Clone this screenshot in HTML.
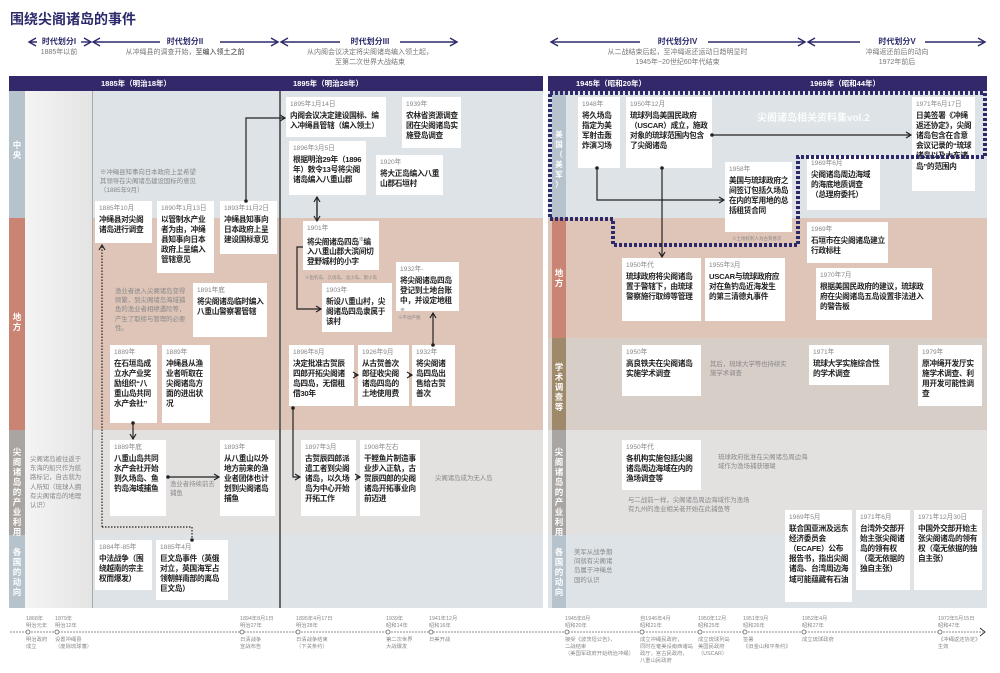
<!DOCTYPE html>
<html><head><meta charset="utf-8">
<style>
*{margin:0;padding:0;box-sizing:border-box}
body{width:1000px;height:673px;background:#fff;position:relative;overflow:hidden;font-family:"Liberation Sans","Noto Sans CJK SC",sans-serif;color:#222}
.a{position:absolute}
.b{position:absolute;background:#fff;padding:3px 3px 3px 4px;font-size:7.7px;font-weight:bold;line-height:10.2px;color:#222;overflow:hidden;letter-spacing:-0.3px}
.b i{display:block;font-style:normal;font-weight:normal;color:#888;font-size:6.6px;line-height:9.5px;margin-bottom:1px;letter-spacing:0}
.n{position:absolute;font-size:6.4px;color:#888;line-height:9.2px}
.lab{position:absolute;color:#fff;font-size:8.5px;font-weight:bold;width:16px;text-align:center;line-height:10px}
.ph{position:absolute;text-align:center;font-size:7px;color:#777;line-height:10px;z-index:2}
.ph b{color:#2c2a6a;font-size:8px;background:#fff;padding:0 5px}
.t{position:absolute;font-size:5.3px;color:#888;line-height:7px;white-space:nowrap}
.bar{position:absolute;top:76px;height:15px;background:#32286a;color:#fff;font-size:7.5px;font-weight:bold;line-height:15px}
</style></head><body>
<div class="a" style="left:10px;top:9px;font-size:14px;font-weight:bold;color:#2c2a6a">围绕尖阁诸岛的事件</div>

<svg class="a" style="left:0;top:0" width="1000" height="60">
<defs><marker id="hr" markerWidth="10" markerHeight="10" refX="8" refY="5" orient="auto" markerUnits="userSpaceOnUse"><path d="M1,1 L8,5 L1,9" fill="none" stroke="#2c2a6a" stroke-width="1.4"/></marker></defs>
<g stroke="#2c2a6a" stroke-width="1.4" fill="none">
<line x1="60" y1="42" x2="29" y2="42" marker-end="url(#hr)"/><line x1="80" y1="42" x2="91" y2="42" marker-end="url(#hr)"/>
<line x1="160" y1="42" x2="93" y2="42" marker-end="url(#hr)"/><line x1="220" y1="42" x2="278" y2="42" marker-end="url(#hr)"/>
<line x1="340" y1="42" x2="281" y2="42" marker-end="url(#hr)"/><line x1="400" y1="42" x2="457" y2="42" marker-end="url(#hr)"/>
<line x1="640" y1="42" x2="551" y2="42" marker-end="url(#hr)"/><line x1="708" y1="42" x2="805" y2="42" marker-end="url(#hr)"/>
<line x1="860" y1="42" x2="808" y2="42" marker-end="url(#hr)"/><line x1="925" y1="42" x2="985" y2="42" marker-end="url(#hr)"/>
</g></svg>

<div class="ph" style="left:28px;top:37px;width:62px"><b>时代划分I</b><br>1885年以前</div>
<div class="ph" style="left:92px;top:37px;width:186px"><b>时代划分II</b><br>从冲绳县的调查开始，<span style="color:#333">至编入领土之前</span></div>
<div class="ph" style="left:280px;top:37px;width:180px"><b>时代划分III</b><br>从内阁会议决定将尖阁诸岛编入领土起，<br>至第二次世界大战结束</div>
<div class="ph" style="left:550px;top:37px;width:255px"><b>时代划分IV</b><br>从二战结束后起，至冲绳返还运动日趋明显时<br>1945年~20世纪60年代结束</div>
<div class="ph" style="left:808px;top:37px;width:178px"><b>时代划分V</b><br>冲绳返还前后的动向<br>1972年前后</div>

<!-- left panel backgrounds -->
<div class="a" style="left:9px;top:91px;width:534px;height:127px;background:#dde3e6"></div>
<div class="a" style="left:9px;top:218px;width:534px;height:212px;background:#dfc5b8"></div>
<div class="a" style="left:9px;top:430px;width:534px;height:105px;background:#e3e1e0"></div>
<div class="a" style="left:9px;top:535px;width:534px;height:73px;background:#dde3e6"></div>
<div class="a" style="left:25px;top:91px;width:67px;height:517px;background:linear-gradient(90deg,#f4f4f4,#e4e4e4)"></div>
<div class="a" style="left:9px;top:91px;width:16px;height:127px;background:#b7c3cc"></div>
<div class="a" style="left:9px;top:218px;width:16px;height:212px;background:#c98473"></div>
<div class="a" style="left:9px;top:430px;width:16px;height:105px;background:#a9a5a2"></div>
<div class="a" style="left:9px;top:535px;width:16px;height:73px;background:#b7c3cc"></div>
<div class="a" style="left:92px;top:91px;width:1px;height:517px;background:#aaa"></div>
<div class="a" style="left:279px;top:91px;width:2px;height:517px;background:#666"></div>
<div class="bar" style="left:9px;width:534px"><span style="position:absolute;left:92px">1885年（明治18年）</span><span style="position:absolute;left:284px">1895年（明治28年）</span></div>

<!-- right panel backgrounds -->
<div class="a" style="left:548px;top:91px;width:439px;height:127px;background:#dde3e6"></div>
<div class="a" style="left:548px;top:218px;width:439px;height:120px;background:#dfc5b8"></div>
<div class="a" style="left:548px;top:338px;width:439px;height:92px;background:#d8cec8"></div>
<div class="a" style="left:548px;top:430px;width:439px;height:105px;background:#e3e1e0"></div>
<div class="a" style="left:548px;top:535px;width:439px;height:73px;background:#dde3e6"></div>
<div class="a" style="left:552px;top:91px;width:14px;height:127px;background:#b7c3cc"></div>
<div class="a" style="left:552px;top:218px;width:14px;height:120px;background:#c98473"></div>
<div class="a" style="left:552px;top:338px;width:14px;height:92px;background:#9e8a6a"></div>
<div class="a" style="left:552px;top:430px;width:14px;height:105px;background:#a9a5a2"></div>
<div class="a" style="left:552px;top:535px;width:14px;height:73px;background:#b7c3cc"></div>
<div class="bar" style="left:548px;width:439px"><span style="position:absolute;left:28px">1945年（昭和20年）</span><span style="position:absolute;left:262px">1969年（昭和44年）</span></div>

<!-- labels -->
<div class="lab" style="left:9px;top:140px">中<br>央</div>
<div class="lab" style="left:9px;top:312px">地<br>方</div>
<div class="lab" style="left:9px;top:447px">尖<br>阁<br>诸<br>岛<br>的<br>产<br>业<br>利<br>用</div>
<div class="lab" style="left:9px;top:547px">各<br>国<br>的<br>动<br>向</div>
<div class="lab" style="left:551px;top:130px;font-size:7.5px">美<br>国<br>（<br>美<br>军<br>）</div>
<div class="lab" style="left:551px;top:268px">地<br>方</div>
<div class="lab" style="left:551px;top:362px">学<br>术<br>调<br>查<br>等</div>
<div class="lab" style="left:551px;top:447px">尖<br>阁<br>诸<br>岛<br>的<br>产<br>业<br>利<br>用</div>
<div class="lab" style="left:551px;top:547px">各<br>国<br>的<br>动<br>向</div>

<!-- left notes -->
<div class="n" style="left:100px;top:168px;width:100px">※冲绳县知事向日本政府上呈希望其领导在尖阁诸岛建设国标的意见（1885年9月）</div>
<div class="n" style="left:115px;top:287px;width:75px">渔业者进入尖阁诸岛变得频繁，到尖阁诸岛海域捕鱼的渔业者相继遇险等，产生了取缔与管理的必要性。</div>
<div class="n" style="left:30px;top:455px;width:57px">尖阁诸岛被往返于东海的船只作为航路标记，自古就为人所知（琉球人拥有尖阁诸岛的地理认识）</div>
<div class="n" style="left:170px;top:480px;width:48px">渔业者持续前去捕鱼</div>
<div class="n" style="left:435px;top:474px">尖阁诸岛成为无人岛</div>
<div class="n" style="left:305px;top:273px;font-size:4.5px">※鱼钓岛、久场岛、北小岛、南小岛</div>
<div class="n" style="left:398px;top:313px;font-size:4.5px">※不动产税</div>

<!-- left boxes -->
<div class="b" style="left:95px;top:201px;width:57px;height:42px"><i>1885年10月</i>冲绳县对尖阁诸岛进行调查</div>
<div class="b" style="left:157px;top:201px;width:57px;height:72px"><i>1890年1月13日</i>以管制水产业者为由，冲绳县知事向日本政府上呈编入管辖意见</div>
<div class="b" style="left:220px;top:201px;width:57px;height:53px"><i>1893年11月2日</i>冲绳县知事向日本政府上呈建设国标意见</div>
<div class="b" style="left:193px;top:283px;width:74px;height:54px"><i>1891年底</i>将尖阁诸岛临时编入八重山警察署管辖</div>
<div class="b" style="left:110px;top:345px;width:47px;height:78px"><i>1889年</i>在石垣岛成立水产业奖励组织“八重山岛共同水产会社”</div>
<div class="b" style="left:162px;top:345px;width:48px;height:78px"><i>1889年</i>冲绳县从渔业者听取在尖阁诸岛方面的进出状况</div>
<div class="b" style="left:110px;top:440px;width:56px;height:76px"><i>1889年底</i>八重山岛共同水产会社开始到久场岛、鱼钓岛海域捕鱼</div>
<div class="b" style="left:220px;top:440px;width:55px;height:76px"><i>1893年</i>从八重山以外地方前来的渔业者团体也计划到尖阁诸岛捕鱼</div>
<div class="b" style="left:95px;top:540px;width:57px;height:50px"><i>1884年-85年</i>中法战争（围绕越南的宗主权而爆发）</div>
<div class="b" style="left:156px;top:540px;width:72px;height:60px"><i>1885年4月</i>巨文岛事件（英俄对立，英国海军占领朝鲜南部的离岛巨文岛）</div>

<div class="b" style="left:286px;top:97px;width:100px;height:40px"><i>1895年1月14日</i>内阁会议决定建设国标、编入冲绳县管辖（编入领土）</div>
<div class="b" style="left:402px;top:97px;width:59px;height:51px"><i>1939年</i>农林省资源调查团在尖阁诸岛实施登岛调查</div>
<div class="b" style="left:289px;top:141px;width:77px;height:54px"><i>1896年3月5日</i>根据明治29年（1896年）敕令13号将尖阁诸岛编入八重山郡</div>
<div class="b" style="left:376px;top:155px;width:67px;height:40px"><i>1920年</i>将大正岛编入八重山郡石垣村</div>
<div class="b" style="left:303px;top:221px;width:76px;height:49px"><i>1901年</i>将尖阁诸岛四岛<sup style="font-size:5px">※</sup>编入八重山郡大滨间切登野城村的小字</div>
<div class="b" style="left:322px;top:283px;width:70px;height:49px"><i>1903年</i>新设八重山村，尖阁诸岛四岛隶属于该村</div>
<div class="b" style="left:396px;top:262px;width:63px;height:49px"><i>1932年-</i>将尖阁诸岛四岛登记到土地台账中，并设定地租<sup style="font-size:5px">※</sup></div>
<div class="b" style="left:289px;top:345px;width:65px;height:61px"><i>1896年8月</i>决定批准古贺辰四郎开拓尖阁诸岛四岛，无偿租借30年</div>
<div class="b" style="left:358px;top:345px;width:51px;height:61px"><i>1926年9月</i>从古贺善次郎征收尖阁诸岛四岛的土地使用费</div>
<div class="b" style="left:412px;top:345px;width:43px;height:61px"><i>1932年</i>将尖阁诸岛四岛出售给古贺善次</div>
<div class="b" style="left:301px;top:440px;width:55px;height:76px"><i>1897年3月</i>古贺辰四郎派遣工者到尖阁诸岛，以久场岛为中心开始开拓工作</div>
<div class="b" style="left:360px;top:440px;width:60px;height:76px"><i>1908年左右</i>干鲣鱼片制造事业步入正轨，古贺辰四郎的尖阁诸岛开拓事业向前迈进</div>

<!-- right -->
<div class="a" style="left:757px;top:109px;color:#fff;font-size:10px;font-weight:bold;opacity:.9">尖阁诸岛相关资料集vol.2</div>
<div class="b" style="left:578px;top:97px;width:42px;height:71px"><i>1948年</i>将久场岛指定为美军射击轰炸演习场</div>
<div class="b" style="left:626px;top:97px;width:86px;height:71px"><i>1950年12月</i>琉球列岛美国民政府（USCAR）成立，施政对象的琉球范围内包含了尖阁诸岛</div>
<div class="b" style="left:912px;top:97px;width:63px;height:94px"><i>1971年6月17日</i>日美签署《冲绳返还协定》，尖阁诸岛包含在合意会议记录的“琉球诸岛以及大东诸岛”的范围内</div>
<div class="b" style="left:725px;top:162px;width:67px;height:70px"><i>1958年</i>美国与琉球政府之间签订包括久场岛在内的军用地的总括租赁合同</div>
<div class="n" style="left:732px;top:234px;font-size:4.5px">※土地权利人为古贺善次</div>
<div class="b" style="left:807px;top:156px;width:73px;height:54px"><i>1969年6月</i>尖阁诸岛周边海域的海底地质调查（总理府委托）</div>
<div class="b" style="left:807px;top:222px;width:81px;height:41px"><i>1969年</i>石垣市在尖阁诸岛建立行政标柱</div>
<div class="b" style="left:622px;top:258px;width:79px;height:63px"><i>1950年代</i>琉球政府将尖阁诸岛置于警辖下，由琉球警察施行取缔等管理</div>
<div class="b" style="left:705px;top:258px;width:80px;height:63px"><i>1955年3月</i>USCAR与琉球政府应对在鱼钓岛近海发生的第三清德丸事件</div>
<div class="b" style="left:816px;top:268px;width:116px;height:52px"><i>1970年7月</i>根据美国民政府的建议，琉球政府在尖阁诸岛五岛设置非法进入的警告板</div>
<div class="b" style="left:622px;top:345px;width:79px;height:51px"><i>1950年</i>高良铁夫在尖阁诸岛实施学术调查</div>
<div class="n" style="left:710px;top:360px;width:80px">其后，琉球大学等也持续实施学术调查</div>
<div class="b" style="left:809px;top:345px;width:80px;height:40px"><i>1971年</i>琉球大学实施综合性的学术调查</div>
<div class="b" style="left:918px;top:345px;width:64px;height:61px"><i>1979年</i>原冲绳开发厅实施学术调查、利用开发可能性调查</div>
<div class="b" style="left:622px;top:440px;width:79px;height:50px"><i>1950年代</i>各机构实施包括尖阁诸岛周边海域在内的渔场调查等</div>
<div class="n" style="left:718px;top:453px;width:90px">琉球政府批准在尖阁诸岛周边海域作为渔场捕获珊瑚</div>
<div class="n" style="left:628px;top:496px;width:125px">与二战前一样，尖阁诸岛周边海域作为渔场有九州的渔业相关者开始在此捕鱼等</div>
<div class="b" style="left:785px;top:510px;width:67px;height:92px"><i>1969年5月</i>联合国亚洲及远东经济委员会（ECAFE）公布报告书，指出尖阁诸岛、台湾周边海域可能蕴藏有石油</div>
<div class="b" style="left:856px;top:510px;width:54px;height:80px"><i>1971年6月</i>台湾外交部开始主张尖阁诸岛的领有权（毫无依据的独自主张）</div>
<div class="b" style="left:914px;top:510px;width:68px;height:80px"><i>1971年12月30日</i>中国外交部开始主张尖阁诸岛的领有权（毫无依据的独自主张）</div>
<div class="n" style="left:574px;top:548px;width:44px">美军从战争期间就有尖阁诸岛属于冲绳总国的认识</div>

<!-- timeline labels -->
<div class="t" style="left:26px;top:616px">1868年<br>明治元年</div><div class="t" style="left:26px;top:637px">明治政府<br>成立</div>
<div class="t" style="left:55px;top:616px">1879年<br>明治12年</div><div class="t" style="left:55px;top:637px">设置冲绳县<br>（废除琉球藩）</div>
<div class="t" style="left:240px;top:616px">1894年8月1日<br>明治27年</div><div class="t" style="left:240px;top:637px">日清战争<br>宣战布告</div>
<div class="t" style="left:296px;top:616px">1895年4月17日<br>明治28年</div><div class="t" style="left:296px;top:637px">日清战争结束<br>（下关条约）</div>
<div class="t" style="left:386px;top:616px">1939年<br>昭和14年</div><div class="t" style="left:386px;top:637px">第二次世界<br>大战爆发</div>
<div class="t" style="left:429px;top:616px">1941年12月<br>昭和16年</div><div class="t" style="left:429px;top:637px">日美开战</div>
<div class="t" style="left:565px;top:616px">1945年8月<br>昭和20年</div><div class="t" style="left:565px;top:637px">接受《波茨坦公告》，<br>二战结束<br>（美国军政府开始统治冲绳）</div>
<div class="t" style="left:640px;top:616px">自1946年4月<br>昭和21年</div><div class="t" style="left:640px;top:637px">成立冲绳民政府，<br>同时在奄美设南西诸岛<br>政厅，宫古民政府，<br>八重山民政府</div>
<div class="t" style="left:698px;top:616px">1950年12月<br>昭和25年</div><div class="t" style="left:698px;top:637px">成立琉球列岛<br>美国民政府<br>（USCAR）</div>
<div class="t" style="left:743px;top:616px">1951年9月<br>昭和26年</div><div class="t" style="left:743px;top:637px">签署<br>《旧金山和平条约》</div>
<div class="t" style="left:802px;top:616px">1952年4月<br>昭和27年</div><div class="t" style="left:802px;top:637px">成立琉球政府</div>
<div class="t" style="left:938px;top:616px">1972年5月15日<br>昭和47年</div><div class="t" style="left:938px;top:637px">《冲绳返还协定》<br>生效</div>

<svg class="a" style="left:0;top:0" width="1000" height="673" viewBox="0 0 1000 673">
<defs><marker id="ar" markerWidth="8" markerHeight="8" refX="6" refY="4" orient="auto" markerUnits="userSpaceOnUse"><path d="M1,1 L6,4 L1,7" fill="none" stroke="#222" stroke-width="1.2"/></marker></defs>
<path d="M550,93 H985 V157 H798 V245 H613 V219 H550 Z" fill="none" stroke="#2c2a6a" stroke-width="4" stroke-dasharray="3 2"/>
<g stroke="#222" stroke-width="1.2" fill="none">
<path d="M246,201 V118 H285" marker-end="url(#ar)"/>
<path d="M317,197 V221" marker-end="url(#ar)"/><path d="M317,219 V197" marker-end="url(#ar)"/>
<path d="M303,247 H297 V309 H321" marker-end="url(#ar)"/>
<path d="M433,345 V313" marker-end="url(#ar)"/>
<path d="M293,408 V477 H300" marker-end="url(#ar)"/>
<path d="M133,423 V439" marker-end="url(#ar)"/>
<path d="M168,477 H219" marker-end="url(#ar)"/>
<path d="M354,375 H358" marker-end="url(#ar)"/><path d="M409,375 H412" marker-end="url(#ar)"/><path d="M356,477 H360" marker-end="url(#ar)"/>
<path d="M712,135 H911" marker-end="url(#ar)"/>
<path d="M597,168 V200 H724" marker-end="url(#ar)"/>
<path d="M662,168 V257" marker-end="url(#ar)"/>
<path d="M102,527 V245" stroke-dasharray="1.5 1.5" marker-end="url(#ar)"/>
<path d="M102,527 H192 V540" stroke-dasharray="1.5 1.5"/>
</g>
<g fill="#222"><circle cx="246" cy="201" r="1.8"/><circle cx="293" cy="408" r="1.8"/><circle cx="433" cy="345" r="1.8"/><circle cx="133" cy="423" r="1.8"/><circle cx="168" cy="477" r="1.8"/><circle cx="712" cy="135" r="1.8"/><circle cx="597" cy="168" r="1.8"/><circle cx="662" cy="168" r="1.8"/><circle cx="192" cy="540" r="1.8"/></g>
<line x1="10" y1="632" x2="983" y2="632" stroke="#666" stroke-width="0.8" stroke-dasharray="2 1"/>
<path d="M980,628 L985,632 L980,636" fill="none" stroke="#333" stroke-width="1"/>
<g fill="#fff" stroke="#666" stroke-width="0.8">
<circle cx="28" cy="632" r="2"/><circle cx="57" cy="632" r="2"/><circle cx="242" cy="632" r="2"/><circle cx="298" cy="632" r="2"/><circle cx="388" cy="632" r="2"/><circle cx="431" cy="632" r="2"/>
<circle cx="567" cy="632" r="2"/><circle cx="642" cy="632" r="2"/><circle cx="700" cy="632" r="2"/><circle cx="745" cy="632" r="2"/><circle cx="804" cy="632" r="2"/><circle cx="940" cy="632" r="2"/></g>
</svg>
</body></html>
